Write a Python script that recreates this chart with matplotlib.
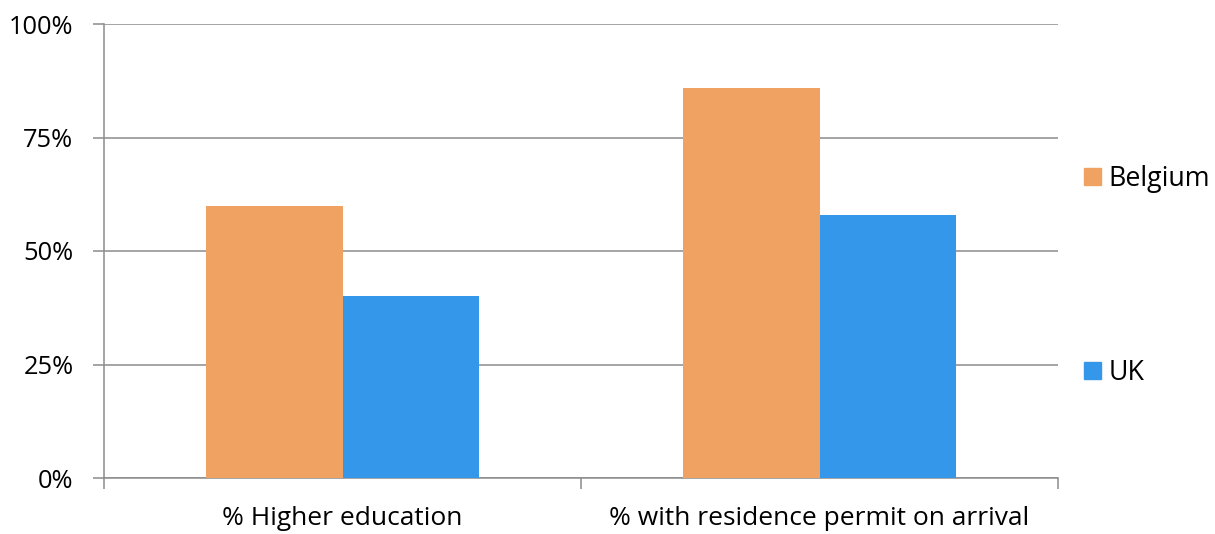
import matplotlib
matplotlib.use("Agg")
import matplotlib.pyplot as plt
import numpy as np
from matplotlib.patches import Patch

categories = ["% Higher education", "% with residence permit on arrival"]
belgium = [60, 86]
uk = [40, 58]
series_names = ["Belgium", "UK"]
yticks = [0, 25, 50, 75, 100]
ytick_labels = ["0%", "25%", "50%", "75%", "100%"]

plt.rcParams['font.family'] = ['Open Sans', 'DejaVu Sans']
ORANGE = "#F0A262"
BLUE = "#3597EA"
GRAY = "#8C8C8C"

fig = plt.figure(figsize=(12.15, 5.34), dpi=100)
ax = fig.add_axes([104/1215, 1-478/534, (1058-104)/1215, (478-24)/534])

x = np.arange(len(categories))
w = 0.286
ax.bar(x - w/2, belgium, width=w, color=ORANGE, zorder=3, label=series_names[0])
ax.bar(x + w/2, uk, width=w, color=BLUE, zorder=3, label=series_names[1])

ax.set_xlim(-0.5, 1.5)
ax.set_ylim(0, 100)
ax.set_yticks(yticks)
ax.set_yticklabels(ytick_labels)
ax.set_xticks([-0.5, 0.5, 1.5], minor=False)
ax.set_xticklabels([])
ax.set_xticks(x, minor=True)
ax.set_xticklabels(categories, minor=True)

ax.tick_params(axis='x', which='major', length=8, width=1.1, color=GRAY)
ax.tick_params(axis='x', which='minor', length=0, pad=20, labelsize=19)
ax.tick_params(axis='y', length=8, width=1.1, color=GRAY, pad=14, labelsize=18.3)

ax.yaxis.grid(True, color=GRAY, linewidth=1.1, zorder=0)
for s in ['top', 'right']:
    ax.spines[s].set_visible(False)
for s in ['left', 'bottom']:
    ax.spines[s].set_color(GRAY)
    ax.spines[s].set_linewidth(1.1)

handles = [Patch(color=ORANGE), Patch(color=BLUE)]
fig.legend(handles, series_names, loc='upper left', bbox_to_anchor=(1084/1215, 1-165/534),
           frameon=False, fontsize=19.3, handlelength=0.62, handleheight=0.62,
           handletextpad=0.3, labelspacing=6.2, borderpad=0, borderaxespad=0)

fig.savefig("out.png", dpi=100)
